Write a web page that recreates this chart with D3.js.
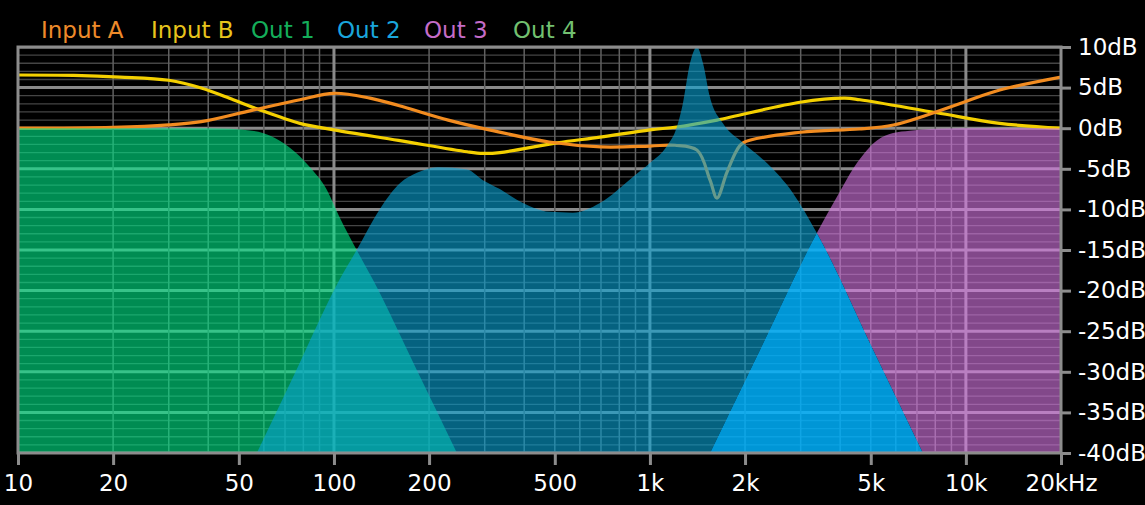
<!DOCTYPE html>
<html>
<head>
<meta charset="utf-8">
<script src="https://cdn.jsdelivr.net/npm/d3@7"></script>
<style>
html, body { margin: 0; padding: 0; background: #000; }
svg { display: block; }
text { font-family: "DejaVu Sans", sans-serif; }
</style>
</head>
<body>
<div id="chart"></div>
<script>
// values: frequency (Hz) and level (dB)
var inAFreq = [10, 20, 30, 38, 55, 78, 100, 130, 160, 230, 310, 480, 700, 1000, 1200, 1410, 1550, 1630, 1750, 1885, 1970, 3000, 4600, 5900, 7500, 10000, 12800, 20000];
var inADb   = [0, 0.1, 0.4, 0.8, 2.2, 3.5, 4.3, 3.7, 2.8, 1.0, -0.2, -1.7, -2.3, -2.2, -2.1, -2.7, -6.4, -8.6, -5.5, -2.7, -1.8, -0.5, -0.1, 0.4, 1.6, 3.3, 4.7, 6.3];

var inBFreq = [10, 15, 21, 30, 38, 48, 57, 78, 100, 160, 264, 296, 335, 508, 695, 1000, 1217, 1630, 2985, 4140, 4620, 8090, 12800, 20000];
var inBDb   = [6.55, 6.5, 6.3, 5.9, 4.95, 3.5, 2.4, 0.6, -0.2, -1.5, -2.9, -3.1, -3.0, -1.8, -1.1, -0.2, 0.15, 1.0, 3.2, 3.7, 3.5, 1.9, 0.6, 0];

var out1Freq = [10, 40, 55, 72, 84, 95, 104, 118, 133, 183, 245];
var out1Db   = [0, 0, -0.3, -2.3, -4.8, -7.6, -10.9, -15, -18.7, -29.8, -40];

var out2Freq = [57, 76, 104, 118, 139, 162, 183, 213, 264, 296, 335, 379, 483, 570, 695, 883, 1000, 1132, 1217, 1271, 1339, 1409, 1472, 1549, 1702, 1970, 2345, 2837, 3375, 5090, 7310];
var out2Db   = [-40, -29.8, -18.7, -15, -10.1, -6.75, -5.5, -4.8, -5.1, -6.4, -7.5, -8.8, -10.3, -10.4, -9.2, -6.0, -4.3, -2.2, 0.15, 3.0, 8.0, 10, 8, 3.8, 0.6, -1.8, -4.3, -8.0, -12.9, -27.3, -40];

var out3Freq = [1550, 2230, 3375, 3900, 4520, 5230, 5880, 6650, 9570, 20000];
var out3Db   = [-40, -27.3, -12.9, -8.5, -4.3, -1.5, -0.6, -0.3, 0, 0];

var freqTicks  = [10, 20, 50, 100, 200, 500, 1000, 2000, 5000, 10000, 20000];
var freqLabels = ["10", "20", "50", "100", "200", "500", "1k", "2k", "5k", "10k", "20kHz"];
var dbTicks    = [10, 5, 0, -5, -10, -15, -20, -25, -30, -35, -40];

var legendNames  = ["Input A", "Input B", "Out 1", "Out 2", "Out 3", "Out 4"];
var legendColors = ["#ee8a2a", "#e8c41c", "#14ae5a", "#1aa6dc", "#c46cc8", "#72c070"];
var legendX      = [41, 151, 251, 337, 424, 513];

var width = 1145, height = 505;
var pLeft = 18, pRight = 1061, pTop = 47, pBottom = 453;

var svg = d3.select("#chart").append("svg")
    .attr("width", width)
    .attr("height", height);

svg.append("rect").attr("width", width).attr("height", height).attr("fill", "#000");

var x = d3.scaleLog().domain([10, 20000]).range([pLeft, pRight]);
var y = d3.scaleLinear().domain([-40, 10]).range([pBottom, pTop]);

function pts(f, v) {
  return f.map(function (d, i) { return [d, v[i]]; });
}
var line = d3.line()
    .x(function (d) { return x(d[0]); })
    .y(function (d) { return y(d[1]); })
    .curve(d3.curveCatmullRom.alpha(0.5));
var area = d3.area()
    .x(function (d) { return x(d[0]); })
    .y0(y(-40))
    .y1(function (d) { return y(d[1]); })
    .curve(d3.curveMonotoneX);

var out1Path = area(pts(out1Freq, out1Db));
var out2Path = area(pts(out2Freq, out2Db));
var out3Path = area(pts(out3Freq, out3Db));

var defs = svg.append("defs");
defs.append("clipPath").attr("id", "plot")
  .append("rect").attr("x", pLeft).attr("y", pTop)
  .attr("width", pRight - pLeft).attr("height", pBottom - pTop);

// Out2 without Out3, Out3 without Out2, and the part where both overlap
var no3 = defs.append("mask").attr("id", "no3").attr("maskUnits", "userSpaceOnUse")
  .attr("x", 0).attr("y", 0).attr("width", width).attr("height", height);
no3.append("rect").attr("width", width).attr("height", height).attr("fill", "#fff");
no3.append("path").attr("d", out3Path).attr("fill", "#000");

var no2 = defs.append("mask").attr("id", "no2").attr("maskUnits", "userSpaceOnUse")
  .attr("x", 0).attr("y", 0).attr("width", width).attr("height", height);
no2.append("rect").attr("width", width).attr("height", height).attr("fill", "#fff");
no2.append("path").attr("d", out2Path).attr("fill", "#000");

defs.append("clipPath").attr("id", "in3").append("path").attr("d", out3Path);

var plot = svg.append("g").attr("clip-path", "url(#plot)");

// grid
var dbLines = d3.range(-40, 11, 1);
plot.selectAll(".hgrid").data(dbLines).enter().append("line")
    .attr("x1", pLeft).attr("x2", pRight)
    .attr("y1", function (d) { return y(d); })
    .attr("y2", function (d) { return y(d); })
    .attr("stroke", function (d) { return d % 5 === 0 ? "#8a8a8a" : "#454545"; })
    .attr("stroke-width", function (d) { return d % 5 === 0 ? 3 : 1.3; });

var fLines = [];
[10, 100, 1000, 10000].forEach(function (dec) {
  for (var k = 1; k < 10; k++) {
    if (dec * k <= 20000) fLines.push(dec * k);
  }
});
plot.selectAll(".vgrid").data(fLines).enter().append("line")
    .attr("x1", function (d) { return x(d); })
    .attr("x2", function (d) { return x(d); })
    .attr("y1", pTop).attr("y2", pBottom)
    .attr("stroke", function (d) { return [100, 1000, 10000].indexOf(d) >= 0 ? "#8a8a8a" : "#606060"; })
    .attr("stroke-width", function (d) { return [100, 1000, 10000].indexOf(d) >= 0 ? 3 : 1.5; });

// input curves (under the output fills)
plot.append("path").attr("d", line(pts(inBFreq, inBDb)))
    .attr("fill", "none").attr("stroke", "#f4d000").attr("stroke-width", 3.2);
plot.append("path").attr("d", line(pts(inAFreq, inADb)))
    .attr("fill", "none").attr("stroke", "#f28c20").attr("stroke-width", 3.2);

// output fills
plot.append("path").attr("d", out1Path)
    .attr("fill", "rgb(0,233,137)").attr("fill-opacity", 0.6);
plot.append("path").attr("d", out3Path).attr("mask", "url(#no2)")
    .attr("fill", "rgb(217,120,230)").attr("fill-opacity", 0.6);
plot.append("path").attr("d", out2Path).attr("mask", "url(#no3)")
    .attr("fill", "rgb(8,163,213)").attr("fill-opacity", 0.6);
plot.append("path").attr("d", out2Path).attr("clip-path", "url(#in3)")
    .attr("fill", "rgb(0,179,255)").attr("fill-opacity", 0.84);

// frame
svg.append("rect")
    .attr("x", pLeft).attr("y", pTop)
    .attr("width", pRight - pLeft).attr("height", pBottom - pTop)
    .attr("fill", "none").attr("stroke", "#8c8c8c").attr("stroke-width", 3);

// axes
var yAxis = d3.axisRight(y)
    .tickValues(dbTicks)
    .tickSize(10)
    .tickPadding(7)
    .tickFormat(function (d) { return d + "dB"; });
var gy = svg.append("g").attr("transform", "translate(" + pRight + ",0)").call(yAxis);

var xAxis = d3.axisBottom(x)
    .tickValues(freqTicks)
    .tickSize(12)
    .tickPadding(10)
    .tickFormat(function (d, i) { return freqLabels[i]; });
var gx = svg.append("g").attr("transform", "translate(0," + pBottom + ")").call(xAxis);

[gx, gy].forEach(function (g) {
  g.select(".domain").remove();
  g.selectAll(".tick line").attr("stroke", "#8c8c8c").attr("stroke-width", 3);
  g.selectAll(".tick text")
    .attr("fill", "#fff")
    .style("font-family", "'DejaVu Sans', sans-serif")
    .style("font-size", "23px");
});

// legend
svg.selectAll(".legend").data(legendNames).enter().append("text")
    .attr("x", function (d, i) { return legendX[i]; })
    .attr("y", 38)
    .attr("fill", function (d, i) { return legendColors[i]; })
    .style("font-size", "23px")
    .text(function (d) { return d; });
</script>
</body>
</html>
